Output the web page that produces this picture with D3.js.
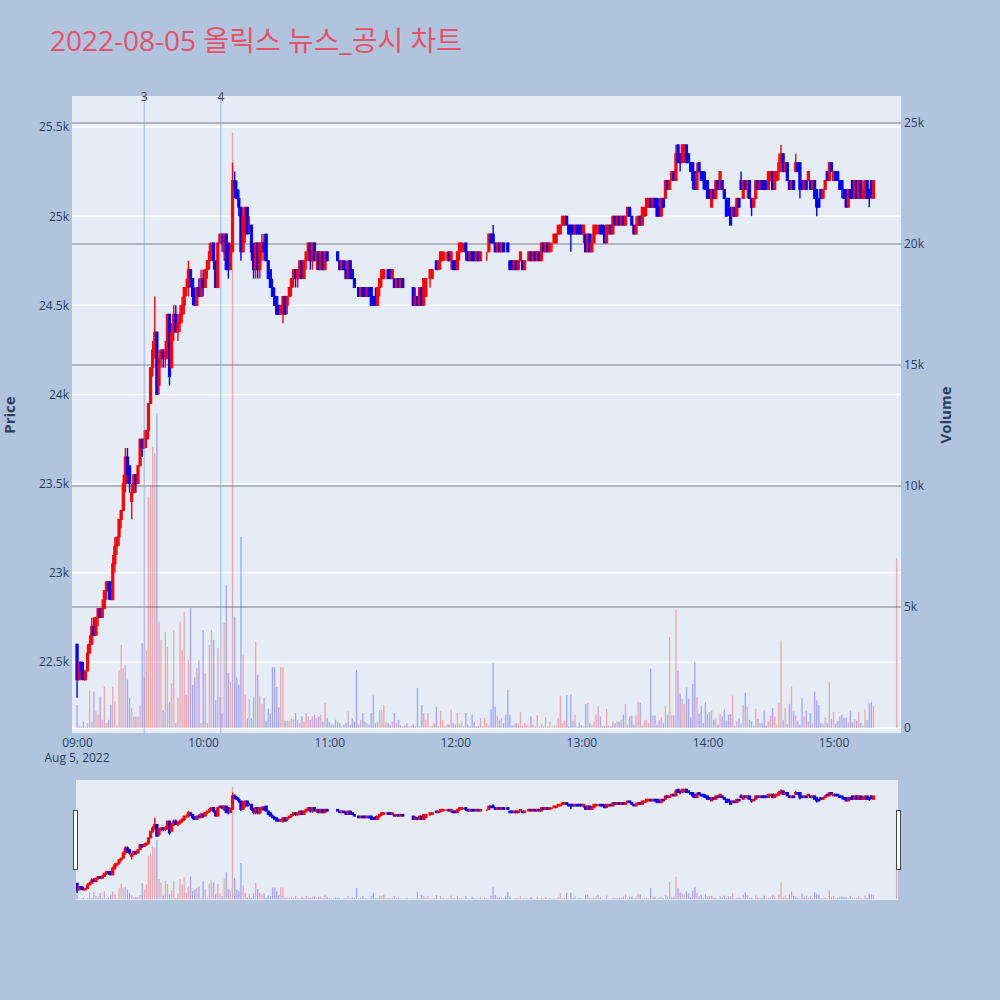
<!DOCTYPE html>
<html><head><meta charset="utf-8">
<script src="https://cdn.jsdelivr.net/npm/d3@7"></script>
<style>body{margin:0;background:#b0c4de}svg{display:block}</style>
</head><body>
<svg id="c" width="1000" height="1000"></svg>
<script>
const chartTitle = "2022-08-05 올릭스 뉴스_공시 차트";
const tradeDate = "2022-08-05";
const firstMinute = "09:00";      // 1-minute candles from 09:00 to 15:19
const closingAuction = "15:30";   // single closing-auction candle
const dateLabel = "Aug 5, 2022";

const opens = [
22600,22400,22500,22450,22400,22450,22550,22600,22700,22650,
22750,22800,22750,22800,22900,22950,22950,22850,23050,23150,
23200,23300,23350,23500,23650,23600,23400,23450,23550,23500,
23600,23750,23700,23750,23800,23950,24150,24250,24350,24050,
24200,24250,24200,24250,24450,24150,24350,24450,24350,24400,
24450,24500,24600,24600,24700,24650,24550,24500,24600,24550,
24650,24600,24700,24750,24800,24850,24750,24600,24850,24900,
24800,24900,24850,24700,24800,25200,25150,25100,25050,24800,
24900,25050,24950,24950,24800,24700,24850,24700,24800,24850,
24900,24750,24700,24600,24550,24550,24500,24450,24450,24550,
24500,24550,24600,24650,24700,24650,24650,24750,24650,24750,
24800,24850,24750,24850,24750,24800,24700,24800,24700,24800,
24750,24750,24750,24750,24800,24750,24700,24750,24700,24650,
24750,24700,24650,24600,24600,24550,24600,24600,24550,24600,
24600,24550,24550,24500,24600,24650,24650,24700,24700,24700,
24650,24650,24600,24650,24600,24650,24600,24550,24600,24600,
24600,24500,24550,24500,24600,24500,24550,24650,24650,24650,
24700,24750,24700,24750,24750,24800,24800,24800,24750,24750,
24750,24700,24800,24800,24850,24850,24800,24750,24800,24800,
24750,24800,24750,24800,24800,24800,24800,24900,24900,24850,
24800,24850,24800,24850,24800,24850,24750,24750,24700,24750,
24700,24750,24750,24700,24750,24750,24800,24750,24800,24750,
24800,24750,24850,24800,24850,24800,24850,24850,24850,24900,
24900,24950,24950,25000,24950,24950,24950,24900,24950,24950,
24950,24900,24900,24800,24900,24800,24850,24900,24950,24950,
24950,24900,24850,24900,24950,24900,25000,24950,25000,24950,
25000,24950,25000,25050,25000,24950,24900,24950,25000,24950,
25000,25050,25050,25100,25050,25100,25100,25050,25000,25100,
25100,25200,25150,25200,25250,25200,25400,25350,25300,25350,
25400,25350,25300,25300,25250,25150,25300,25250,25250,25200,
25200,25150,25050,25150,25100,25200,25150,25200,25150,25100,
25100,25050,25000,25050,25000,25100,25200,25100,25200,25150,
25200,25100,25050,25100,25200,25150,25200,25200,25200,25150,
25200,25250,25150,25200,25250,25300,25350,25250,25300,25200,
25150,25200,25250,25300,25300,25200,25150,25200,25200,25200,
25150,25200,25150,25100,25150,25100,25150,25250,25200,25300,
25200,25250,25250,25200,25200,25150,25150,25050,25150,25200,
25100,25200,25100,25200,25100,25100,25200,25150,25200,25100,
25200];

const highs = [
22600,22500,22500,22500,22450,22600,22650,22750,22750,22750,
22800,22800,22850,22900,22950,22950,22950,23100,23200,23200,
23300,23350,23550,23700,23700,23600,23500,23550,23550,23600,
23750,23750,23800,23800,23950,24150,24300,24550,24350,24250,
24250,24250,24300,24450,24450,24400,24500,24500,24450,24500,
24550,24600,24650,24750,24700,24650,24600,24600,24650,24700,
24700,24700,24750,24850,24850,24850,24750,24850,24900,24900,
24900,24900,24850,24850,25300,25250,25200,25150,25050,25050,
25050,25050,25000,24950,24850,24850,24850,24850,24900,24900,
24900,24750,24700,24650,24600,24550,24500,24500,24550,24550,
24550,24600,24650,24700,24700,24700,24750,24750,24750,24800,
24850,24850,24850,24850,24800,24800,24800,24800,24800,24800,
24750,24750,24750,24750,24800,24750,24750,24750,24750,24750,
24750,24700,24650,24600,24600,24600,24600,24600,24600,24600,
24600,24550,24600,24600,24650,24700,24700,24700,24700,24700,
24700,24650,24650,24650,24650,24650,24600,24550,24600,24600,
24600,24600,24550,24600,24600,24650,24650,24650,24700,24700,
24700,24750,24750,24800,24800,24800,24800,24800,24800,24750,
24750,24800,24850,24850,24850,24850,24800,24800,24800,24800,
24800,24800,24800,24800,24800,24800,24900,24900,24950,24850,
24850,24850,24850,24850,24800,24850,24750,24750,24750,24750,
24750,24800,24750,24750,24750,24800,24800,24800,24800,24800,
24800,24850,24850,24850,24850,24850,24850,24900,24900,24950,
24950,25000,25000,25000,24950,24950,24950,24950,24950,24950,
24950,24950,24900,24900,24900,24900,24950,24950,24950,24950,
24950,24950,24950,24950,24950,25000,25000,25000,25000,25000,
25000,25000,25050,25050,25000,24950,25000,25000,25000,25050,
25050,25100,25100,25100,25100,25100,25100,25100,25100,25100,
25200,25200,25200,25250,25250,25400,25400,25350,25400,25400,
25400,25350,25300,25300,25250,25300,25300,25250,25250,25250,
25200,25150,25150,25150,25200,25200,25250,25200,25150,25100,
25100,25050,25050,25050,25100,25100,25250,25200,25200,25200,
25200,25100,25100,25200,25200,25200,25200,25200,25200,25250,
25250,25250,25250,25250,25350,25400,25350,25300,25300,25200,
25200,25200,25350,25300,25300,25200,25200,25200,25250,25200,
25200,25200,25150,25100,25150,25150,25200,25250,25300,25300,
25250,25250,25250,25200,25200,25150,25150,25150,25150,25200,
25200,25200,25200,25200,25200,25200,25200,25150,25200,25200,
25200];

const lows = [
22300,22400,22400,22400,22400,22450,22550,22600,22650,22650,
22700,22750,22750,22800,22850,22850,22850,22850,23000,23100,
23150,23250,23350,23450,23500,23450,23300,23450,23450,23500,
23600,23650,23700,23700,23750,23950,24100,24200,24000,24000,
24150,24150,24150,24200,24050,24150,24300,24350,24300,24350,
24400,24450,24550,24550,24600,24500,24500,24500,24550,24550,
24550,24600,24650,24700,24750,24700,24600,24600,24850,24800,
24750,24700,24650,24700,24800,25100,25100,25000,24750,24800,
24850,24900,24900,24750,24650,24650,24650,24650,24750,24750,
24750,24650,24600,24550,24500,24450,24450,24450,24400,24450,
24450,24550,24550,24600,24600,24600,24650,24650,24650,24700,
24750,24700,24700,24750,24700,24700,24700,24700,24700,24750,
24750,24750,24750,24750,24750,24700,24700,24700,24650,24650,
24650,24650,24600,24600,24550,24550,24550,24550,24550,24550,
24500,24500,24500,24500,24550,24600,24650,24700,24650,24650,
24650,24600,24600,24600,24600,24600,24600,24550,24600,24600,
24500,24500,24500,24500,24500,24500,24550,24650,24600,24650,
24700,24700,24700,24700,24750,24750,24750,24750,24700,24700,
24700,24700,24750,24800,24800,24750,24750,24750,24750,24750,
24750,24750,24750,24800,24800,24750,24800,24850,24850,24800,
24800,24800,24800,24800,24800,24800,24700,24700,24700,24700,
24700,24750,24700,24700,24750,24750,24750,24750,24750,24750,
24750,24750,24800,24800,24800,24800,24800,24850,24850,24900,
24900,24950,24950,24950,24900,24800,24900,24900,24900,24900,
24900,24850,24800,24800,24800,24800,24850,24900,24900,24900,
24900,24850,24850,24900,24900,24900,24950,24950,24950,24950,
24950,24950,25000,25000,24950,24900,24900,24950,24950,24950,
25000,25000,25050,25050,25050,25050,25000,25000,25000,25050,
25100,25150,25150,25200,25200,25200,25300,25250,25300,25300,
25300,25300,25250,25150,25150,25150,25250,25200,25150,25150,
25100,25100,25050,25100,25100,25150,25150,25150,25100,25000,
25000,24950,25000,25000,25000,25050,25150,25100,25150,25100,
25100,25000,25050,25100,25150,25150,25150,25150,25150,25150,
25200,25150,25150,25200,25200,25250,25250,25250,25200,25150,
25150,25150,25250,25250,25100,25150,25150,25150,25200,25150,
25150,25100,25000,25050,25100,25100,25150,25200,25200,25250,
25200,25200,25200,25150,25100,25100,25050,25050,25100,25100,
25100,25100,25100,25100,25100,25100,25100,25050,25100,25100,
25200];

const closes = [
22400,22500,22450,22400,22450,22550,22600,22700,22650,22750,
22800,22750,22800,22900,22950,22900,22850,23050,23150,23200,
23300,23350,23500,23650,23550,23500,23450,23550,23500,23600,
23750,23700,23750,23800,23950,24150,24250,24350,24000,24200,
24250,24200,24250,24450,24100,24350,24450,24350,24400,24450,
24500,24600,24600,24700,24650,24550,24500,24600,24550,24650,
24600,24700,24750,24800,24850,24750,24600,24850,24900,24850,
24900,24700,24700,24800,25200,25150,25100,25050,24800,25000,
25050,24900,24950,24800,24700,24850,24700,24850,24850,24800,
24750,24650,24600,24550,24500,24450,24450,24500,24550,24450,
24550,24600,24650,24700,24650,24700,24750,24650,24750,24800,
24850,24750,24850,24750,24800,24700,24800,24700,24800,24750,
24750,24750,24750,24750,24750,24700,24750,24700,24650,24750,
24650,24650,24600,24600,24550,24600,24550,24550,24600,24550,
24500,24500,24500,24600,24650,24700,24700,24700,24650,24650,
24700,24600,24650,24600,24650,24600,24600,24550,24600,24600,
24500,24550,24500,24600,24500,24650,24650,24650,24700,24700,
24700,24700,24750,24800,24800,24800,24800,24750,24800,24700,
24700,24800,24850,24850,24850,24800,24750,24800,24750,24750,
24800,24750,24800,24800,24800,24800,24900,24850,24850,24800,
24850,24800,24850,24800,24800,24800,24700,24700,24750,24700,
24750,24800,24700,24750,24750,24800,24750,24800,24750,24800,
24750,24850,24800,24850,24800,24850,24850,24900,24900,24950,
24950,25000,25000,24950,24900,24900,24900,24950,24900,24900,
24900,24950,24800,24900,24800,24850,24950,24950,24950,24900,
24900,24850,24950,24950,24900,25000,24950,25000,24950,25000,
24950,25000,25050,25000,24950,24900,24950,25000,24950,25050,
25050,25100,25100,25050,25100,25050,25000,25000,25100,25050,
25200,25150,25200,25250,25200,25350,25300,25300,25400,25400,
25300,25300,25250,25200,25150,25250,25250,25200,25200,25150,
25100,25100,25150,25100,25200,25150,25250,25150,25100,25000,
25050,24950,25050,25000,25100,25050,25150,25200,25150,25200,
25100,25050,25100,25200,25150,25200,25150,25150,25150,25250,
25250,25150,25250,25250,25300,25350,25250,25300,25200,25150,
25200,25150,25300,25250,25150,25150,25200,25150,25250,25150,
25200,25100,25050,25050,25100,25150,25200,25200,25300,25250,
25250,25200,25200,25150,25150,25100,25050,25150,25100,25100,
25200,25100,25200,25100,25150,25200,25100,25100,25150,25200,
25200];

const volumes = [
950,100,60,260,50,200,1540,260,1500,690,
550,1300,340,1710,200,340,960,1710,1100,100,
2400,3430,2470,2600,2000,1240,830,480,480,480,
900,3500,2100,3200,9550,10000,11600,11350,13000,4400,
3640,740,3970,3350,1070,1850,4050,200,1240,4400,
3200,4800,1360,2800,4950,1780,2100,2470,2800,200,
4050,2270,200,3430,4050,3640,1150,3300,1280,600,
4340,5900,2270,1900,24600,4600,2100,1800,7900,3000,
1400,400,1200,400,1300,3550,2200,1300,1000,1240,
300,800,600,2520,2520,1700,850,2520,2520,300,
300,300,400,350,620,340,200,480,260,620,
480,340,480,550,410,480,550,260,1030,410,
260,140,140,340,260,200,70,140,200,690,
140,410,260,2400,140,340,620,260,200,140,
620,1340,200,260,740,740,950,260,200,140,
260,620,200,340,140,70,100,200,70,100,
140,70,1650,70,950,620,340,620,70,100,
200,880,70,690,340,80,140,140,760,200,
140,620,200,260,70,620,140,70,550,260,
70,80,410,70,410,200,100,760,2680,880,
480,340,410,200,550,1570,550,100,140,200,
180,660,80,200,140,60,480,140,60,520,
50,180,70,440,50,250,50,100,100,410,
1340,200,300,1360,70,1400,275,550,60,230,
110,60,990,1030,200,140,275,550,900,480,
70,70,790,100,70,275,200,275,275,340,
550,990,140,480,510,140,510,1090,1050,100,
320,340,200,2460,510,510,140,320,440,200,
900,550,3760,520,510,4890,2370,1420,1200,990,
1680,1210,440,1820,2740,1280,580,900,200,1060,
580,650,720,340,410,140,580,480,760,300,
550,580,1340,70,275,410,180,960,1450,870,
340,275,100,790,370,200,200,740,110,275,
510,830,480,110,1030,3620,320,830,165,1000,
1720,690,510,300,140,1230,480,720,275,620,
180,1500,1140,960,200,165,440,200,1890,370,
660,180,300,480,550,410,440,230,720,230,
370,300,660,230,100,760,320,1030,1070,900,
7020];

const priceTicks = [22500,23000,23500,24000,24500,25000,25500];
const volumeTicks = [0,5000,10000,15000,20000,25000];
const newsTimes = ["09:32:00","10:08:25"];
const newsLabels = ["3","4"];

// ---------- build ----------
const parseT = d3.timeParse("%Y-%m-%d %H:%M:%S");
const t0 = parseT(tradeDate + " " + firstMinute + ":00");
const times = closes.map((_, i) => i < closes.length - 1
  ? d3.timeMinute.offset(t0, i)
  : parseT(tradeDate + " " + closingAuction + ":00"));

let prevDir = 1, prevC = null;
const data = closes.map((c, i) => {
  const o = opens[i];
  let d;
  if (c > o) d = 1; else if (c < o) d = -1;
  else d = prevC === null ? 1 : (c > prevC ? 1 : (c < prevC ? -1 : prevDir));
  prevDir = d; prevC = c;
  return {t: times[i], o, h: highs[i], l: lows[i], c, v: volumes[i], dir: d};
});

const UP = "#ff0000", DOWN = "#0000ff";
const FONT = "'Open Sans', 'Noto Sans CJK KR', sans-serif";
const TXT = "#2a3f5f";

const svg = d3.select("#c");
svg.append("rect").attr("width", 1000).attr("height", 1000).attr("fill", "#b0c4de");

const L = 72, R = 901, T = 96, B = 733;
const x = d3.scaleTime()
  .domain([parseT(tradeDate + " 08:57:36"), parseT(tradeDate + " 15:32:06")])
  .range([L, R]);
const yP = d3.scaleLinear().domain([22102, 25674]).range([B, T]);
const yV = d3.scaleLinear().domain([-207, 26116]).range([B, T]);

// title
svg.append("text").attr("x", 50).attr("y", 51)
  .attr("font-family", FONT).attr("font-size", 28).attr("fill", "#e8506a")
  .text(chartTitle);

// plot background
svg.append("rect").attr("x", L).attr("y", T).attr("width", R - L).attr("height", B - T).attr("fill", "#e5ecf6");

const defs = svg.append("defs");
defs.append("clipPath").attr("id", "clipMain").append("rect")
  .attr("x", L).attr("y", T).attr("width", R - L).attr("height", B - T);

// price grid (white)
svg.append("g").selectAll("line").data(priceTicks).join("line")
  .attr("x1", L).attr("x2", R).attr("y1", d => yP(d)).attr("y2", d => yP(d))
  .attr("stroke", "#ffffff").attr("stroke-width", 1.5);
// volume grid (gray)
svg.append("g").selectAll("line").data(volumeTicks.filter(d => d > 0)).join("line")
  .attr("x1", L).attr("x2", R).attr("y1", d => yV(d)).attr("y2", d => yV(d))
  .attr("stroke", "#9ea3ab").attr("stroke-width", 1.5);
// volume zero line
svg.append("line").attr("x1", L).attr("x2", R).attr("y1", yV(0)).attr("y2", yV(0))
  .attr("stroke", "#ffffff").attr("stroke-width", 2);

function drawVolume(g, xs, yv, w) {
  g.selectAll("rect.vol").data(data).join("rect").attr("class", "vol")
    .attr("x", d => xs(d.t) - w / 2).attr("width", w)
    .attr("y", d => yv(d.v)).attr("height", d => Math.max(0, yv(0) - yv(d.v)))
    .attr("fill", d => d.dir > 0 ? UP : DOWN).attr("fill-opacity", 0.3);
}
function drawCandles(g, xs, yp) {
  const c = g.selectAll("g.cd").data(data).join("g").attr("class", "cd")
    .attr("stroke", d => d.dir > 0 ? UP : DOWN).attr("fill", d => d.dir > 0 ? UP : DOWN);
  c.append("line")
    .attr("x1", d => xs(d.t)).attr("x2", d => xs(d.t))
    .attr("y1", d => yp(d.h)).attr("y2", d => yp(d.l)).attr("stroke-width", 1.4);
  c.append("rect")
    .attr("x", d => xs(d.t) - 1.1).attr("width", 2.2)
    .attr("y", d => yp(Math.max(d.o, d.c)))
    .attr("height", d => Math.abs(yp(d.o) - yp(d.c)))
    .attr("stroke-width", 1);
}

const main = svg.append("g").attr("clip-path", "url(#clipMain)");
drawVolume(main.append("g"), x, yV, 1.3);

// news markers
const newsG = svg.append("g");
newsTimes.forEach((s, i) => {
  const nx = x(parseT(tradeDate + " " + s));
  newsG.append("line").attr("x1", nx).attr("x2", nx).attr("y1", T).attr("y2", B)
    .attr("stroke", "rgb(120,150,235)").attr("stroke-opacity", 0.45).attr("stroke-width", 1.5);
  newsG.append("text").attr("x", nx).attr("y", 101).attr("text-anchor", "middle")
    .attr("font-family", FONT).attr("font-size", 12).attr("fill", "#444").text(newsLabels[i]);
});

drawCandles(main.append("g"), x, yP);

// axes
const fmt = d3.format("~s");
const axL = svg.append("g").attr("transform", `translate(${L},0)`)
  .call(d3.axisLeft(yP).tickValues(priceTicks).tickFormat(fmt).tickSize(0).tickPadding(3));
const axR = svg.append("g").attr("transform", `translate(${R},0)`)
  .call(d3.axisRight(yV).tickValues(volumeTicks).tickFormat(fmt).tickSize(0).tickPadding(3));
const axB = svg.append("g").attr("transform", `translate(0,${B})`)
  .call(d3.axisBottom(x).ticks(d3.timeHour.every(1)).tickFormat(d3.timeFormat("%H:%M")).tickSize(0).tickPadding(5));
[axL, axR, axB].forEach(a => {
  a.select(".domain").remove();
  a.selectAll("text").attr("font-family", FONT).attr("font-size", 12).attr("fill", TXT);
});
svg.append("text").attr("x", x(t0)).attr("y", 762).attr("text-anchor", "middle")
  .attr("font-family", FONT).attr("font-size", 12).attr("fill", TXT).text(dateLabel);

// axis titles
svg.append("text").attr("transform", "translate(15,415) rotate(-90)").attr("text-anchor", "middle")
  .attr("font-family", FONT).attr("font-size", 15).attr("font-weight", "bold").attr("fill", TXT).text("Price");
svg.append("text").attr("transform", "translate(951,415) rotate(-90)").attr("text-anchor", "middle")
  .attr("font-family", FONT).attr("font-size", 15).attr("font-weight", "bold").attr("fill", TXT).text("Volume");

// range slider
const SL = 76, SR = 898, ST = 780, SB = 900;
svg.append("rect").attr("x", SL).attr("y", ST).attr("width", SR - SL).attr("height", SB - ST).attr("fill", "#e5ecf6");
defs.append("clipPath").attr("id", "clipSlider").append("rect")
  .attr("x", SL).attr("y", ST).attr("width", SR - SL).attr("height", SB - ST);
const ySP = d3.scaleLinear().domain(yP.domain()).range([SB, ST]);
const ySV = d3.scaleLinear().domain(yV.domain()).range([SB, ST]);
const sg = svg.append("g").attr("clip-path", "url(#clipSlider)");
drawVolume(sg.append("g"), x, ySV, 1.3);
drawCandles(sg.append("g"), x, ySP);
[SL - 2.5, SR - 1.5].forEach(hx => {
  svg.append("rect").attr("x", hx).attr("y", 810.5).attr("width", 4).attr("height", 59)
    .attr("fill", "#fff").attr("stroke", "#444").attr("stroke-width", 1);
});
</script>
</body></html>
